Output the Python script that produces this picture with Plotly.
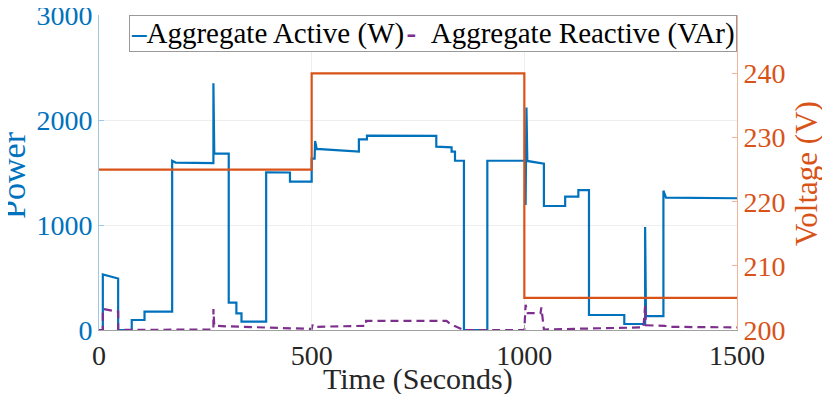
import plotly.graph_objects as go

# ---- data ----
active_t = [0, 9, 9, 45, 45, 77, 77, 107, 107, 172, 172, 180, 269, 269, 271, 305, 305, 323, 323, 335, 335,
            393, 393, 449, 449, 500, 500, 507, 508, 512, 611, 611, 630, 630, 793, 793, 829, 829, 837, 837,
            858, 858, 913, 913, 1003, 1003, 1005, 1007, 1046, 1046, 1096, 1096, 1127, 1127, 1152, 1152,
            1235, 1235, 1284, 1284, 1286, 1327, 1327, 1333, 1500]
active_w = [0, 0, 530, 490, 0, 0, 95, 95, 175, 175, 1612, 1595, 1590, 2350, 1680, 1680, 260, 260, 159, 159, 79,
            79, 1502, 1500, 1413, 1413, 1632, 1632, 1800, 1725, 1700, 1816, 1816, 1851, 1848, 1746, 1740, 1698,
            1698, 1612, 1612, 0, 0, 1612, 1612, 1190, 2120, 1610, 1585, 1181, 1181, 1270, 1270, 1333, 1333, 143,
            143, 57, 57, 980, 133, 133, 1327, 1260, 1255]

reactive_t = [0, 9, 9, 25, 40, 45, 45, 269, 269, 271, 300, 400, 500, 502, 505, 628, 628, 817, 825, 835, 858,
              1000, 1003, 1008, 1038, 1040, 1042, 1046, 1280, 1284, 1286, 1330, 1340, 1500]
reactive_var = [0, 0, 200, 190, 175, 175, 0, 5, 200, 40, 35, 25, 10, 50, 30, 40, 86, 86, 60, 40, 0,
                0, 240, 160, 160, 215, 150, 5, 25, 230, 45, 40, 30, 25]

voltage_t = [0, 500, 500, 1000, 1000, 1500]
voltage_v = [225, 225, 240, 240, 205, 205]

x_ticks = [0, 500, 1000, 1500]
power_ticks = [0, 1000, 2000, 3000]
volt_ticks = [200, 210, 220, 230, 240]

series_names = ["Aggregate Active (W)", "Aggregate Reactive (VAr)"]

BLUE = "#0072BD"
ORANGE = "#D95319"
PURPLE = "#7E2F8E"
FONT = "Liberation Serif"

fig = go.Figure()
fig.add_trace(go.Scatter(x=active_t, y=active_w, mode="lines", name=series_names[0],
                         line=dict(color=BLUE, width=2.2), yaxis="y", showlegend=False))
fig.add_trace(go.Scatter(x=reactive_t, y=reactive_var, mode="lines", name=series_names[1],
                         line=dict(color=PURPLE, width=2.2, dash="8px,5px"), yaxis="y", showlegend=False))
fig.add_trace(go.Scatter(x=voltage_t, y=voltage_v, mode="lines", name="Voltage",
                         line=dict(color=ORANGE, width=2.2), yaxis="y2", showlegend=False))

legend_text = (f"<span style='color:{BLUE}'><b>–</b></span>{series_names[0]}\u200a"
               f"<span style='color:{PURPLE}'><b>-</b></span>\u2002{series_names[1]}")

fig.update_layout(
    template="none",
    width=822, height=386,
    margin=dict(l=91, r=93, t=7, b=64, autoexpand=False),
    paper_bgcolor="white", plot_bgcolor="white",
    font=dict(family=FONT, size=28, color="#262626"),
    xaxis=dict(range=[0, 1500], tickvals=x_ticks, showgrid=True, gridcolor="#EEEEEE", gridwidth=1,
               zeroline=False, showline=True, linecolor="#A0A0A0", linewidth=1, automargin=False,
               ticks="inside", ticklen=5, tickcolor="#A0A0A0", ticklabeloverflow="allow",
               tickfont=dict(family=FONT, size=28, color="#262626")),
    yaxis=dict(range=[0, 3000], tickvals=power_ticks, showgrid=True, gridcolor="#EEEEEE", gridwidth=1,
               zeroline=False, showline=True, linecolor="#9CC8E6", linewidth=1, automargin=False,
               ticks="inside", ticklen=5, tickcolor="#9CC8E6", ticklabeloverflow="allow",
               tickfont=dict(family=FONT, size=28, color=BLUE)),
    yaxis2=dict(range=[200, 249.1], tickvals=volt_ticks, overlaying="y", side="right", automargin=False,
                showgrid=False, zeroline=False, showline=True, linecolor="#F0B49A", linewidth=1,
                ticks="inside", ticklen=5, tickcolor="#F0B49A", ticklabeloverflow="allow",
                tickfont=dict(family=FONT, size=28, color=ORANGE)),
    annotations=[
        dict(text="Time (Seconds)", xref="paper", yref="paper", x=0.5, y=-0.155,
             xanchor="center", yanchor="middle", showarrow=False,
             font=dict(family=FONT, size=30, color="#262626")),
        dict(text="Power", xref="paper", yref="paper", x=-0.135, y=0.492, textangle=-90,
             xanchor="center", yanchor="middle", showarrow=False,
             font=dict(family=FONT, size=34, color=BLUE)),
        dict(text="Voltage (V)", xref="paper", yref="paper", x=1.108, y=0.498, textangle=-90,
             xanchor="center", yanchor="middle", showarrow=False,
             font=dict(family=FONT, size=31, color=ORANGE)),
        dict(text=legend_text, xref="paper", yref="paper", x=1, y=1,
             xanchor="right", yanchor="top", showarrow=False, align="left",
             bgcolor="white", bordercolor="#999999", borderwidth=1, borderpad=1,
             font=dict(family=FONT, size=29, color="black")),
    ],
)

fig.write_html("out.html")
